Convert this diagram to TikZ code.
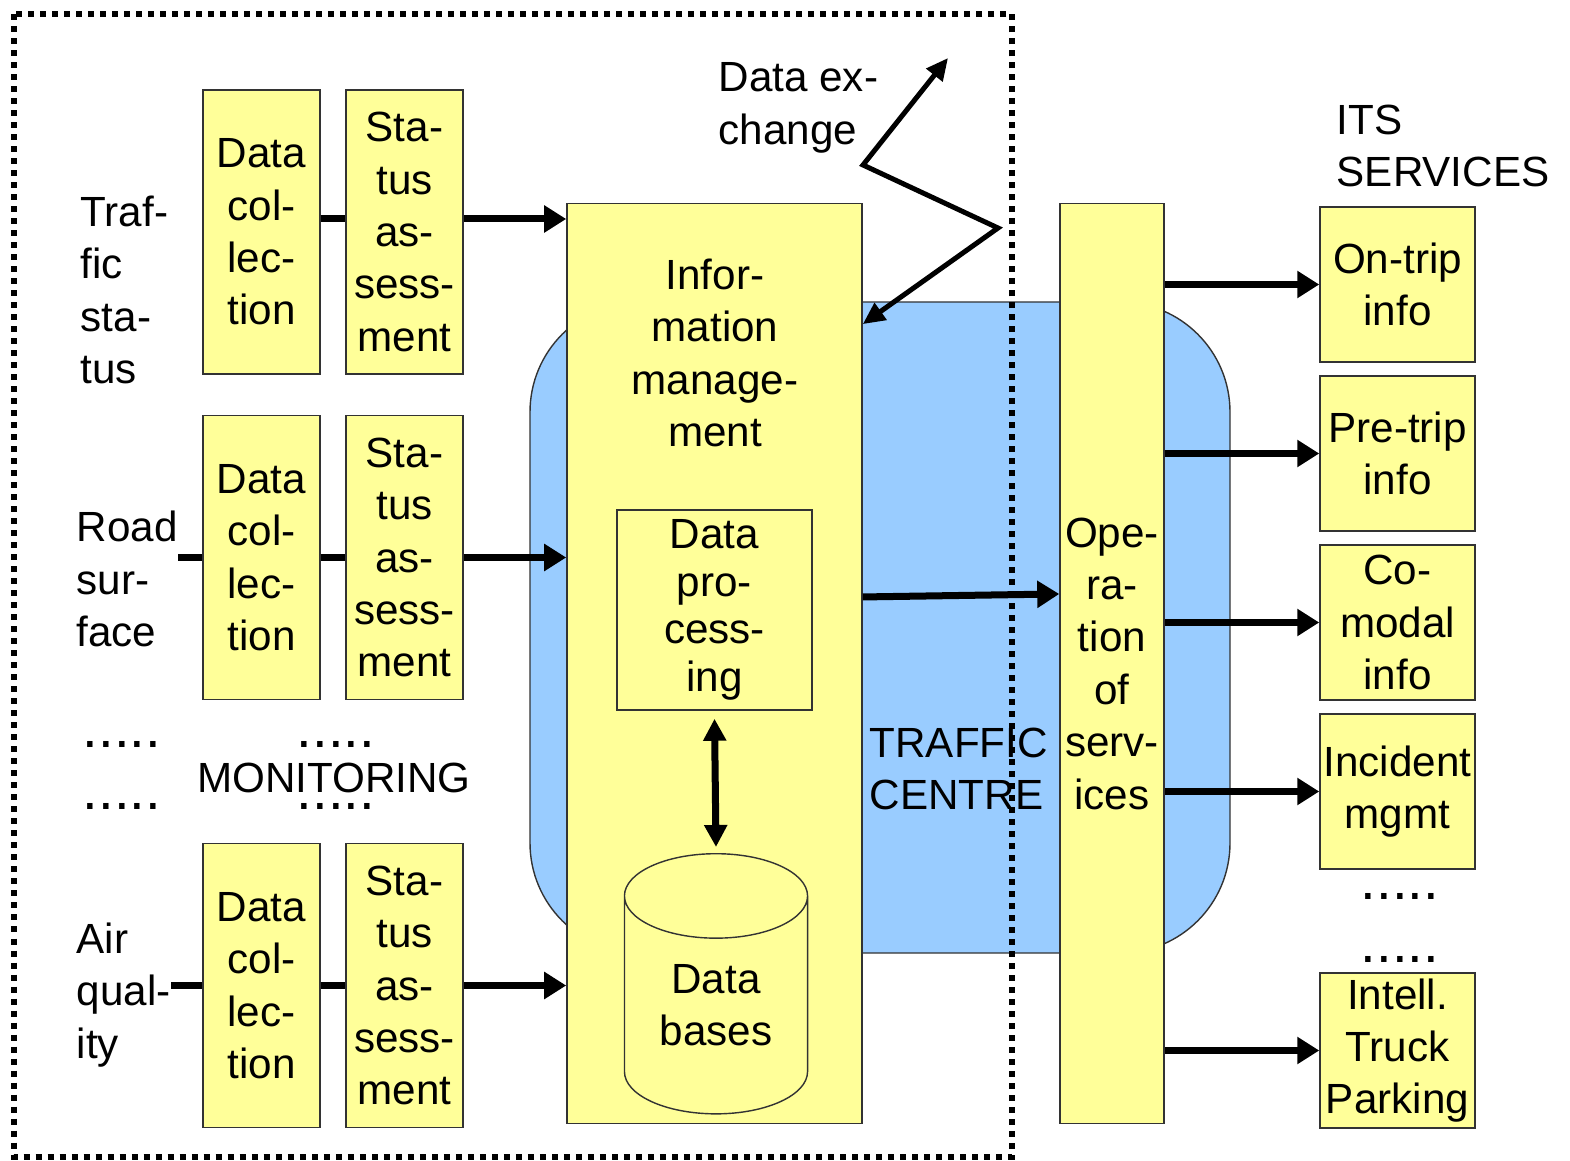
\documentclass[tikz,border=0pt]{standalone}
\usepackage{fontspec}
\setmainfont{Liberation Sans}
\usetikzlibrary{arrows.meta,shapes.geometric}
\definecolor{boxyellow}{HTML}{FFFF99}
\definecolor{centreblue}{HTML}{99CCFF}
\definecolor{boxline}{HTML}{333333}

\begin{document}
\begin{tikzpicture}[x=0.01cm, y=-0.01cm, font=\fontsize{12}{14.9}\selectfont]
\tikzstyle{block} = [rectangle, draw=boxline, fill=boxyellow, inner sep=0pt, align=center]
\tikzstyle{colbox} = [block, minimum width=1.17cm, minimum height=2.84cm]
\tikzstyle{svcbox} = [block, minimum width=1.55cm, minimum height=1.55cm]
\tikzstyle{txt} = [inner sep=0pt, align=left]
\tikzstyle{dots} = [inner sep=0pt, anchor=base, font=\fontsize{16}{20}\selectfont]
\tikzstyle{link} = [line width=0.07cm]
\tikzstyle{arrow} = [line width=0.07cm, -{Triangle[length=0.22cm,width=0.26cm]}]
\tikzstyle{darrow} = [line width=0.07cm, {Triangle[length=0.22cm,width=0.22cm]}-{Triangle[length=0.22cm,width=0.22cm]}]
\tikzstyle{zig} = [line width=0.05cm, miter limit=20, {Triangle[length=0.22cm,width=0.2cm]}-{Triangle[length=0.22cm,width=0.2cm]}]
\tikzstyle{border} = [line width=0.06cm, dash pattern=on 0.06cm off 0.06cm]

\useasboundingbox (0,0) rectangle (1570,1161);

% traffic centre
\draw[draw=boxline, fill=centreblue, rounded corners=1.1cm] (530,302) rectangle (1230,953);

% monitoring
\node[colbox] (dc1) at (261.5,232) {Data\\col-\\lec-\\tion};
\node[colbox] (st1) at (404.5,232) {Sta-\\tus\\as-\\sess-\\ment};
\node[colbox] (dc2) at (261.5,557.5) {Data\\col-\\lec-\\tion};
\node[colbox] (st2) at (404.5,557.5) {Sta-\\tus\\as-\\sess-\\ment};
\node[colbox] (dc3) at (261.5,985.5) {Data\\col-\\lec-\\tion};
\node[colbox] (st3) at (404.5,985.5) {Sta-\\tus\\as-\\sess-\\ment};

\node[txt, anchor=west] (traf) at (80,290) {Traf-\\fic\\sta-\\tus};
\node[txt, anchor=west] (road) at (76,579) {Road\\sur-\\face};
\node[txt, anchor=west] (air) at (76,995) {Air\\qual-\\ity};
\node[txt] (monitor) at (334,778) {MONITORING};
\node[dots] (dl1) at (122,747) {.....};
\node[dots] (dl2) at (122,809) {.....};
\node[dots] (dm1) at (336,747) {.....};
\node[dots] (dm2) at (336,809) {.....};

% centre
\node[block, minimum width=2.95cm, minimum height=9.19cm] (info) at (714.5,663.5) {};
\node[txt, align=center] (infotxt) at (715,353) {Infor-\\mation\\manage-\\ment};
\node[block, minimum width=1.95cm, minimum height=2cm, font=\fontsize{12}{13.5}\selectfont] (dp) at (714.5,610) {Data\\pro-\\cess-\\ing};
\node[cylinder, shape border rotate=90, draw=boxline, fill=boxyellow, aspect=0.75, anchor=north,
  minimum width=1.83cm, minimum height=2.6cm, inner sep=0pt, align=center] (db) at (716,853) {Data\\bases};
\node[block, minimum width=1.04cm, minimum height=9.19cm] (oper) at (1112,663.5) {Ope-\\ra-\\tion\\of\\serv-\\ices};
\node[txt, anchor=west] (tc) at (869,769) {TRAFFIC\\CENTRE};
\node[txt, anchor=west] (dataex) at (718,108) {Data ex-\\change};

% its services
\node[txt, anchor=west] (its) at (1336,146) {ITS\\SERVICES};
\node[svcbox] (s1) at (1397.5,284.5) {On-trip\\info};
\node[svcbox] (s2) at (1397.5,453.5) {Pre-trip\\info};
\node[svcbox] (s3) at (1397.5,622.5) {Co-\\modal\\info};
\node[svcbox] (s4) at (1397.5,791.5) {Incident\\mgmt};
\node[svcbox] (s5) at (1397.5,1050.5) {Intell.\\Truck\\Parking};
\node[dots] (dr1) at (1400,899) {.....};
\node[dots] (dr2) at (1400,962) {.....};

\coordinate (xtop) at (948,58);
\coordinate (xa) at (863,165);
\coordinate (xb) at (998,228);

\draw[link] ([yshift=0.13cm]dc1.east) -- ([yshift=0.13cm]st1.west);
\draw[arrow] ([yshift=0.13cm]st1.east) -- ([yshift=0.13cm]st1.east -| info.west);
\draw[link] (road.east |- dc2.west) -- (dc2.west);
\draw[link] (dc2.east) -- (st2.west);
\draw[arrow] (st2.east) -- (st2.east -| info.west);
\draw[link] (air.east |- dc3.west) -- (dc3.west);
\draw[link] (dc3.east) -- (st3.west);
\draw[arrow] (st3.east) -- (st3.east -| info.west);

\draw[zig] (xtop) -- (xa) -- (xb) -- ([yshift=-1.21cm]info.north east);
\draw[darrow] ([yshift=-0.08cm]dp.south) -- ([yshift=0.06cm]db.north);
\draw[arrow] ([yshift=0.665cm]info.east) -- ([yshift=0.695cm]oper.west);

\draw[arrow] (oper.east |- s1.west) -- (s1.west);
\draw[arrow] (oper.east |- s2.west) -- (s2.west);
\draw[arrow] (oper.east |- s3.west) -- (s3.west);
\draw[arrow] (oper.east |- s4.west) -- (s4.west);
\draw[arrow] (oper.east |- s5.west) -- (s5.west);

\draw[border] (14,14) rectangle (1012,1157);
\end{tikzpicture}
\end{document}
